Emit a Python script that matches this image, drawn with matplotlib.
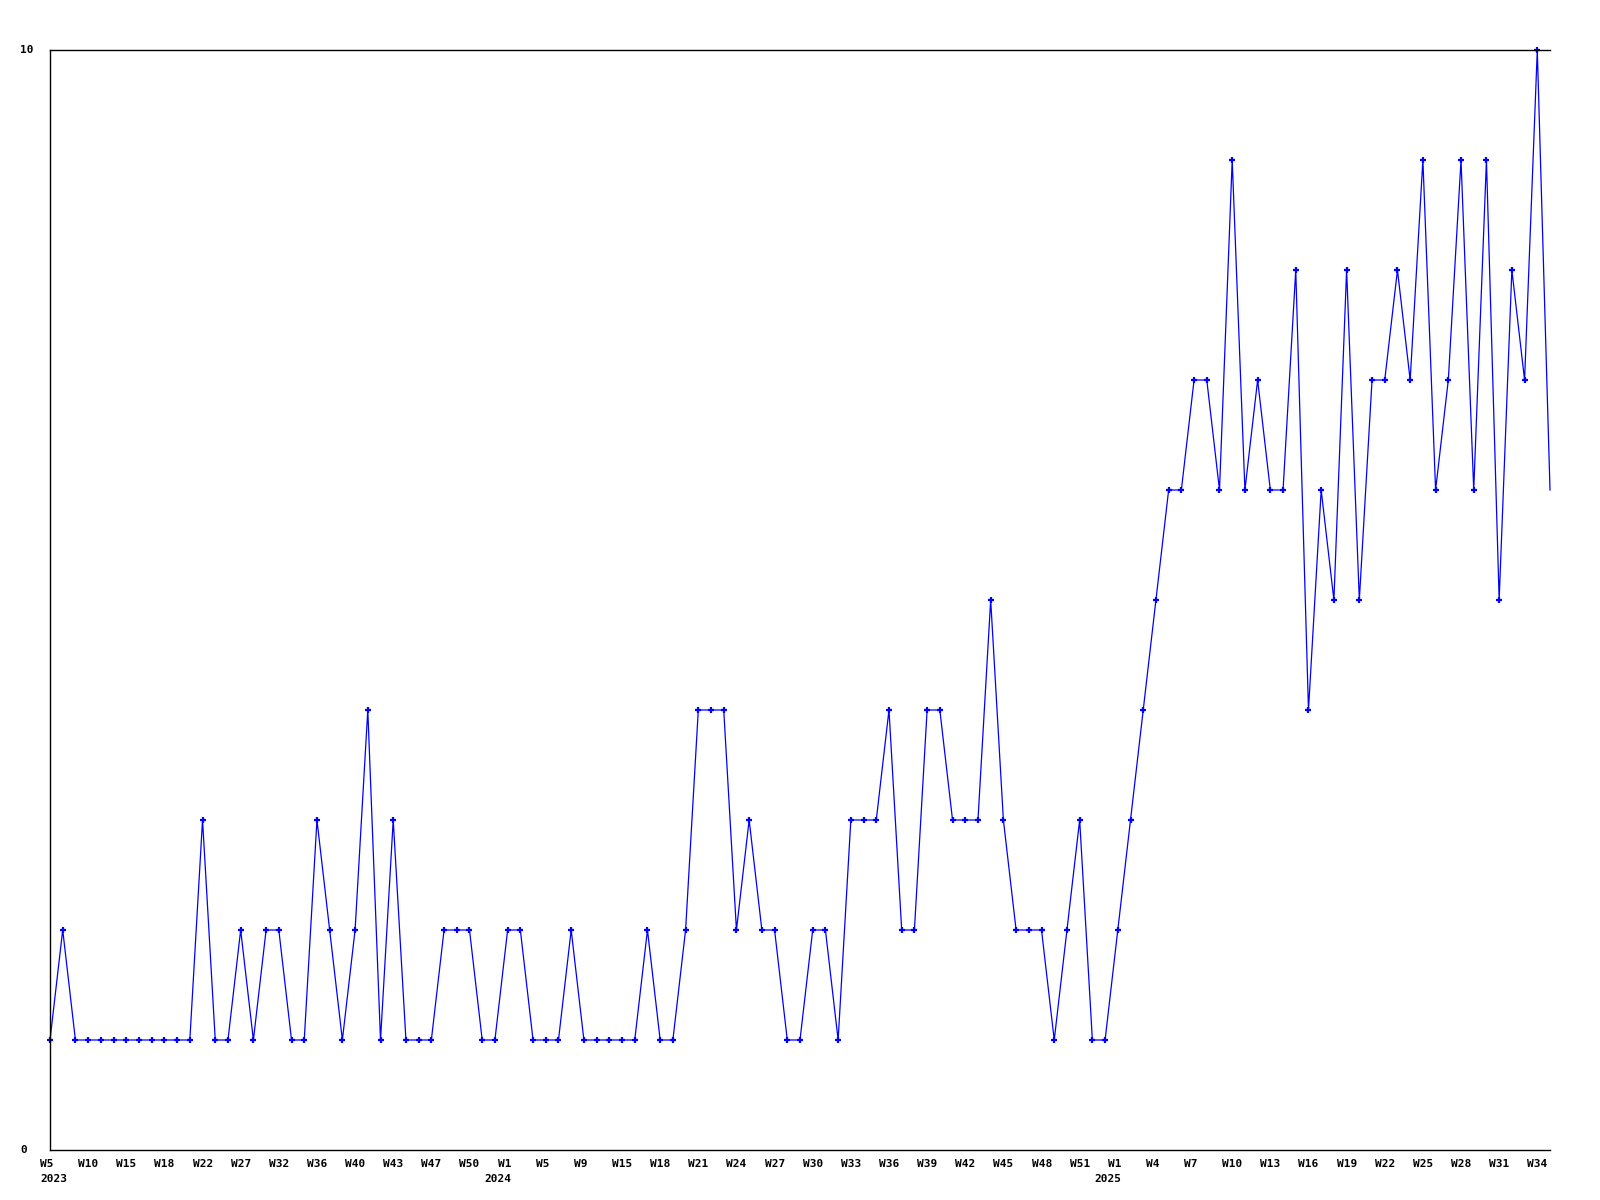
import matplotlib
matplotlib.use("Agg")
import matplotlib.pyplot as plt

# weekly counts, one per data point (last point has no marker)
values = [1, 2, 1, 1, 1, 1, 1, 1, 1, 1, 1, 1,
          3, 1, 1, 2, 1, 2, 2, 1, 1, 3, 2, 1,
          2, 4, 1, 3, 1, 1, 1, 2, 2, 2, 1, 1,
          2, 2, 1, 1, 1, 2, 1, 1, 1, 1, 1, 2,
          1, 1, 2, 4, 4, 4, 2, 3, 2, 2, 1, 1,
          2, 2, 1, 3, 3, 3, 4, 2, 2, 4, 4, 3,
          3, 3, 5, 3, 2, 2, 2, 1, 2, 3, 1, 1,
          2, 3, 4, 5, 6, 6, 7, 7, 6, 9, 6, 7,
          6, 6, 8, 4, 6, 5, 8, 5, 7, 7, 8, 7,
          9, 6, 7, 9, 6, 9, 5, 8, 7, 10, 6]

# a label every 3 points
week_labels = ["W5", "W10", "W15", "W18", "W22", "W27", "W32", "W36", "W40", "W43",
               "W47", "W50", "W1", "W5", "W9", "W15", "W18", "W21", "W24", "W27",
               "W30", "W33", "W36", "W39", "W42", "W45", "W48", "W51", "W1", "W4",
               "W7", "W10", "W13", "W16", "W19", "W22", "W25", "W28", "W31", "W34"]
label_step = 3
years = ["2023", "2024", "2025"]
year_label_pos = [0, 12, 28]   # index into week_labels

FONT = "DejaVu Sans Mono"
SIZE = 8
BLUE = "#0000ff"

fig = plt.figure(figsize=(16, 12), dpi=100)
ax = fig.add_axes([50 / 1600, 50 / 1200, 1500 / 1600, 1100 / 1200])

x = list(range(len(values)))
ax.plot(x, values, color=BLUE, linewidth=0.9, clip_on=False)
ax.plot(x[:-1], values[:-1], linestyle="none", marker="+", markersize=4.5,
        markeredgewidth=1.6, color=BLUE, clip_on=False)

ax.set_xlim(0, len(values) - 1)
ax.set_ylim(0, 10)
ax.set_xticks([])
ax.set_yticks([])
ax.spines["right"].set_visible(False)
for s in ["top", "bottom", "left"]:
    ax.spines[s].set_linewidth(1.0)
    ax.spines[s].set_color("black")

xt = ax.get_xaxis_transform()
yt = ax.get_yaxis_transform()

for n, lab in enumerate(week_labels):
    ax.annotate(lab, xy=(n * label_step, 0), xycoords=xt, xytext=(-10, -9),
                textcoords="offset pixels", ha="left", va="top",
                fontfamily=FONT, fontsize=SIZE, fontweight="bold")

for k, yr in enumerate(years):
    pos = year_label_pos[k] * label_step
    dx = -10 if k == 0 else -23.5
    ax.annotate(yr, xy=(pos, 0), xycoords=xt, xytext=(dx, -24),
                textcoords="offset pixels", ha="left", va="top",
                fontfamily=FONT, fontsize=SIZE, fontweight="bold")

for v in [0, 10]:
    ax.annotate(str(v), xy=(0, v), xycoords=yt, xytext=(-30, 0),
                textcoords="offset pixels", ha="left", va="center",
                fontfamily=FONT, fontsize=SIZE, fontweight="bold")

plt.savefig("out.png", dpi=100)
